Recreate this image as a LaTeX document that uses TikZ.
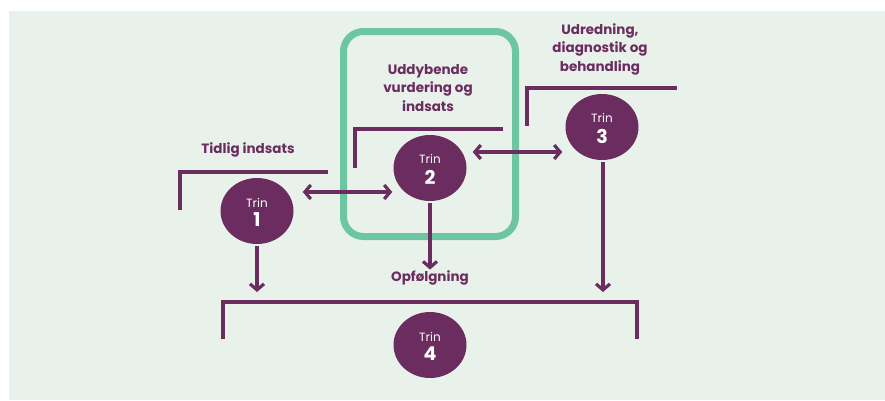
\documentclass[tikz,border=0pt]{standalone}
\usepackage{fontspec}
\setmainfont{Poppins}
\usetikzlibrary{shapes.geometric,arrows.meta,calc}
\definecolor{bgg}{HTML}{E8F2EB}
\definecolor{mint}{HTML}{6DC5A1}
\definecolor{plum}{HTML}{6B2C5F}
\newcommand{\trinlbl}[1]{\rule{0pt}{12pt}Trin\\[5pt]{\fontsize{19}{19}\selectfont\bfseries #1}}
\begin{document}
\begin{tikzpicture}[x=1pt,y=-1pt,
  trin/.style={ellipse,fill=plum,minimum width=73pt,minimum height=66pt,inner sep=0pt,text=white,align=center,font=\fontsize{12}{12}\selectfont},
  lbl/.style={text=plum,align=center,font=\fontsize{13.5}{18.5}\selectfont\bfseries},
  brk/.style={draw=plum,line width=3.2pt},
  arr/.style={draw=plum,line width=3.2pt,-{Straight Barb[length=6pt,width=14pt,line width=3.2pt]}},
  dbl/.style={draw=plum,line width=3.2pt,{Straight Barb[length=6pt,width=14pt,line width=3.2pt]}-{Straight Barb[length=6pt,width=14pt,line width=3.2pt]}}]
\useasboundingbox (0,0) rectangle (885,400);
\fill[white] (0,0) rectangle (885,400);
\fill[bgg] (9,11) rectangle (885,400);
% green frame
\draw[mint,line width=7pt,rounded corners=20pt] (343.5,31.5) rectangle (515.5,236.5);
% circles
\node[trin] (t1) at (257,211) {\trinlbl{1}};
\node[trin] (t2) at (430,168) {\trinlbl{2}};
\node[trin] (t3) at (602,127) {\trinlbl{3}};
\node[trin] (t4) at (430,345) {\trinlbl{4}};
% labels
\node[lbl] (l1) at (248,150) {Tidlig indsats};
\node[lbl] (l2) at (428,88) {Uddybende\\vurdering og\\indsats};
\node[lbl] (l3) at (600,49) {Udredning,\\diagnostik og\\behandling};
\node[lbl,inner sep=1pt] (opf) at (430,278) {Opfølgning};
% brackets
\draw[brk] (180,210) -- (180,172) -- (328,172);
\draw[brk] (355,168) -- (355,129) -- (503,129);
\draw[brk] (527,126) -- (527,88) -- (677,88);
\draw[brk] (223,339) -- (223,302) -- (637,302) -- (637,339);
% arrows
\draw[dbl] ($(t1.east)+(9,-19)$) -- ($(t2.west)+(-1,24)$);
\draw[dbl] ($(t2.east)+(6,-16)$) -- ($(t3.west)+(-3,25)$);
\coordinate (e1) at (257,292);
\coordinate (e3) at (603,292);
\draw[arr] ($(t1.south)+(0,2)$) -- (e1);
\draw[arr] ($(t2.south)+(0,2)$) -- (t2.south |- opf.north);
\draw[arr] ($(t3.south)+(1,2)$) -- (e3);
\end{tikzpicture}
\end{document}
